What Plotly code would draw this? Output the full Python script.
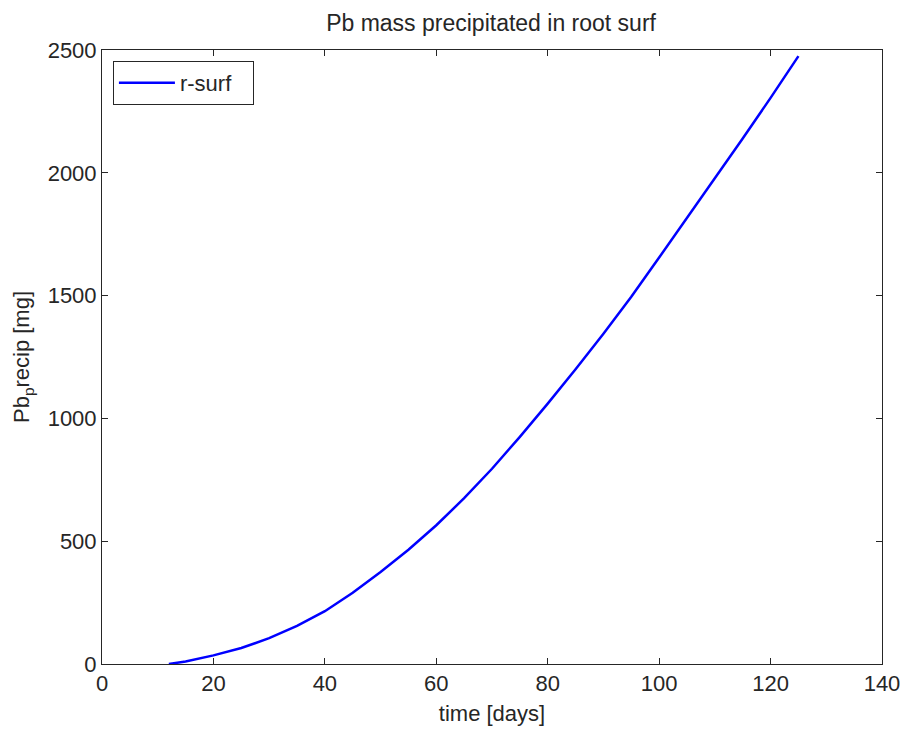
import plotly.graph_objects as go

# Precipitated Pb mass on the root surface over time
time_days = [12, 15, 20, 25, 30, 35, 40, 45, 50, 55, 60, 65, 70, 75, 80,
             85, 90, 95, 100, 105, 110, 115, 120, 125]
pb_mass_mg = [0, 10, 35, 65, 105, 155, 215, 290, 375, 465, 565, 675, 795, 925,
              1060, 1200, 1345, 1495, 1655, 1815, 1975, 2140, 2305, 2475]

x_ticks = [0, 20, 40, 60, 80, 100, 120, 140]
y_ticks = [0, 500, 1000, 1500, 2000, 2500]

FONT = "Liberation Sans, Arial, sans-serif"
INK = "#262626"

fig = go.Figure()
fig.add_trace(go.Scatter(
    x=time_days, y=pb_mass_mg, mode="lines", name="r-surf",
    line=dict(color="#0000ff", width=2.5),
))

axis_common = dict(
    showgrid=False, zeroline=False, showline=True, linecolor=INK,
    linewidth=1, mirror="ticks", ticks="inside", ticklen=6, tickcolor=INK,
    tickfont=dict(family=FONT, size=22, color=INK), automargin=False,
)

fig.update_layout(
    width=906, height=731,
    margin=dict(l=102, r=24, t=50, b=67),
    paper_bgcolor="white", plot_bgcolor="white",
    title=dict(text="Pb mass precipitated in root surf", x=0.542, xanchor="center",
               y=0.968, yanchor="middle",
               font=dict(family=FONT, size=23, color=INK)),
    xaxis=dict(range=[0, 140], tickvals=x_ticks,
               title=dict(text="time [days]", standoff=10,
                          font=dict(family=FONT, size=22, color=INK)),
               **axis_common),
    yaxis=dict(range=[0, 2500], tickvals=y_ticks,
               title=dict(text="Pb<sub>p</sub>recip [mg]", standoff=11,
                          font=dict(family=FONT, size=22, color=INK)),
               **axis_common),
    legend=dict(x=0.014, y=0.982, xanchor="left", yanchor="top",
                orientation="h", entrywidth=68, entrywidthmode="pixels",
                bgcolor="white", bordercolor=INK, borderwidth=1, itemwidth=56,
                font=dict(family=FONT, size=22, color=INK)),
    showlegend=True,
)

fig.write_html("out.html")
